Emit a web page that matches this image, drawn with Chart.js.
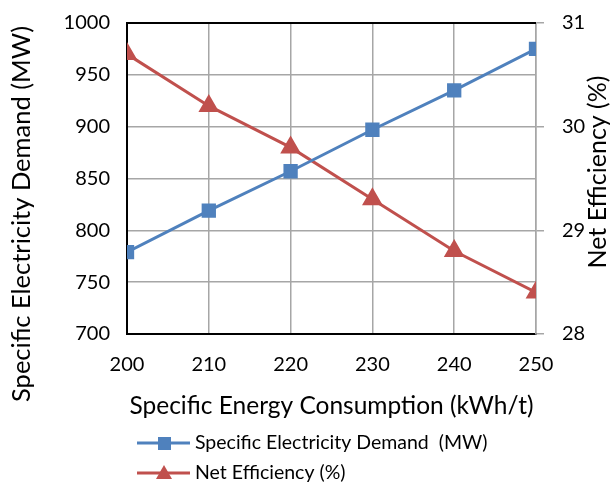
<!DOCTYPE html>
<html><head><meta charset="utf-8">
<script src="https://cdn.jsdelivr.net/npm/chart.js@4/dist/chart.umd.min.js"></script>
<style>html,body{margin:0;padding:0;background:#fff}#wrap{width:611px;height:484px}</style>
</head><body><div id="wrap"><canvas id="c"></canvas></div>
<script>
const categories = [200, 210, 220, 230, 240, 250];
const demandMW = [779, 819, 857, 897, 935, 975];
const efficiency = [30.7, 30.2, 29.8, 29.3, 28.8, 28.4];
const leftTicks = [700, 750, 800, 850, 900, 950, 1000];
const rightTicks = [28, 29, 30, 31];
const xTitle = 'Specific Energy Consumption (kWh/t)';
const yTitle = 'Specific Electricity Demand (MW)';
const y1Title = 'Net Efficiency (%)';
const FONT = "Lato, 'Open Sans', sans-serif";
const BLUE = '#4f81bd', RED = '#c0504d', GRID = '#a6a6a6';

const extrasPlugin = {
  id: 'extras',
  afterDraw(chart) {
    const ctx = chart.ctx;
    const a = chart.chartArea;
    ctx.save(); ctx.strokeStyle = '#000'; ctx.lineWidth = 2;
    ctx.beginPath(); ctx.moveTo(a.left, a.top); ctx.lineTo(a.right, a.top); ctx.stroke(); ctx.restore();
    ctx.save(); ctx.fillStyle = '#000'; ctx.font = '25.5px ' + FONT; ctx.textAlign = 'center'; ctx.textBaseline = 'middle';
    ctx.translate(22, 214); ctx.rotate(-Math.PI / 2); ctx.fillText(yTitle, 0, 0); ctx.restore();
    ctx.save(); ctx.fillStyle = '#000'; ctx.font = '25px ' + FONT; ctx.textAlign = 'center'; ctx.textBaseline = 'middle';
    ctx.translate(598, 172); ctx.rotate(-Math.PI / 2); ctx.fillText(y1Title, 0, 0); ctx.restore();
    const rows = [443, 473];
    chart.data.datasets.forEach((ds, i) => {
      const y = rows[i];
      ctx.save();
      ctx.strokeStyle = ds.borderColor; ctx.lineWidth = 3;
      ctx.beginPath(); ctx.moveTo(137, y); ctx.lineTo(190, y); ctx.stroke();
      ctx.fillStyle = ds.borderColor;
      if (ds.pointStyle === 'rect') { ctx.fillRect(158, y - 6, 13, 13); }
      else { ctx.beginPath(); ctx.moveTo(164, y - 8); ctx.lineTo(172, y + 6); ctx.lineTo(156, y + 6); ctx.closePath(); ctx.fill(); }
      ctx.fillStyle = '#000'; ctx.font = '19.5px ' + FONT; ctx.textBaseline = 'middle'; ctx.textAlign = 'left';
      ctx.fillText(ds.label, 195, y);
      ctx.restore();
    });
  }
};

const fitV = w => s => { s.width = w; s.paddingTop = 0; s.paddingBottom = 0; };

new Chart(document.getElementById('c'), {
  type: 'line',
  data: {
    datasets: [
      { label: 'Specific Electricity Demand  (MW)', data: categories.map((x, i) => ({x, y: demandMW[i]})), yAxisID: 'y',
        borderColor: BLUE, backgroundColor: BLUE, borderWidth: 3, pointStyle: 'rect', pointRadius: 8, pointHoverRadius: 8 },
      { label: 'Net Efficiency (%)', data: categories.map((x, i) => ({x, y: efficiency[i]})), yAxisID: 'y1',
        borderColor: RED, backgroundColor: RED, borderWidth: 3, pointStyle: 'triangle', pointRadius: 9, pointHoverRadius: 9 }
    ]
  },
  options: {
    responsive: true, maintainAspectRatio: false, animation: false,
    layout: { padding: { top: 23, bottom: 60, left: 0, right: 0 } },
    plugins: { legend: { display: false }, tooltip: { enabled: false } },
    scales: {
      x: { type: 'linear', min: 200, max: 250,
        afterBuildTicks: s => { s.ticks = categories.map(v => ({value: v})); },
        afterFit: s => { s.height = 90; s.paddingLeft = 0; s.paddingRight = 0; },
        ticks: { color: '#000', font: { size: 20, family: FONT }, padding: 19, maxRotation: 0 },
        grid: { color: GRID, lineWidth: 1.5, drawTicks: false },
        border: { color: '#000', width: 2 },
        title: { display: true, text: xTitle, color: '#000', font: { size: 24.5, family: FONT }, padding: { top: 0, bottom: 3 } } },
      y: { position: 'left', min: 700, max: 1000,
        afterBuildTicks: s => { s.ticks = leftTicks.map(v => ({value: v})); },
        afterFit: fitV(127),
        ticks: { color: '#000', font: { size: 20, family: FONT }, padding: 17, callback: v => String(v) },
        grid: { color: GRID, lineWidth: 1.5, drawTicks: false },
        border: { color: '#000', width: 2 } },
      y1: { position: 'right', min: 28, max: 31,
        afterBuildTicks: s => { s.ticks = rightTicks.map(v => ({value: v})); },
        afterFit: fitV(75),
        ticks: { color: '#000', font: { size: 20, family: FONT }, padding: 18, callback: v => String(v) },
        grid: { drawOnChartArea: false, color: GRID, lineWidth: 1.5, tickLength: 8 },
        border: { color: GRID, width: 1.5 } }
    }
  },
  plugins: [extrasPlugin]
});
</script></body></html>
